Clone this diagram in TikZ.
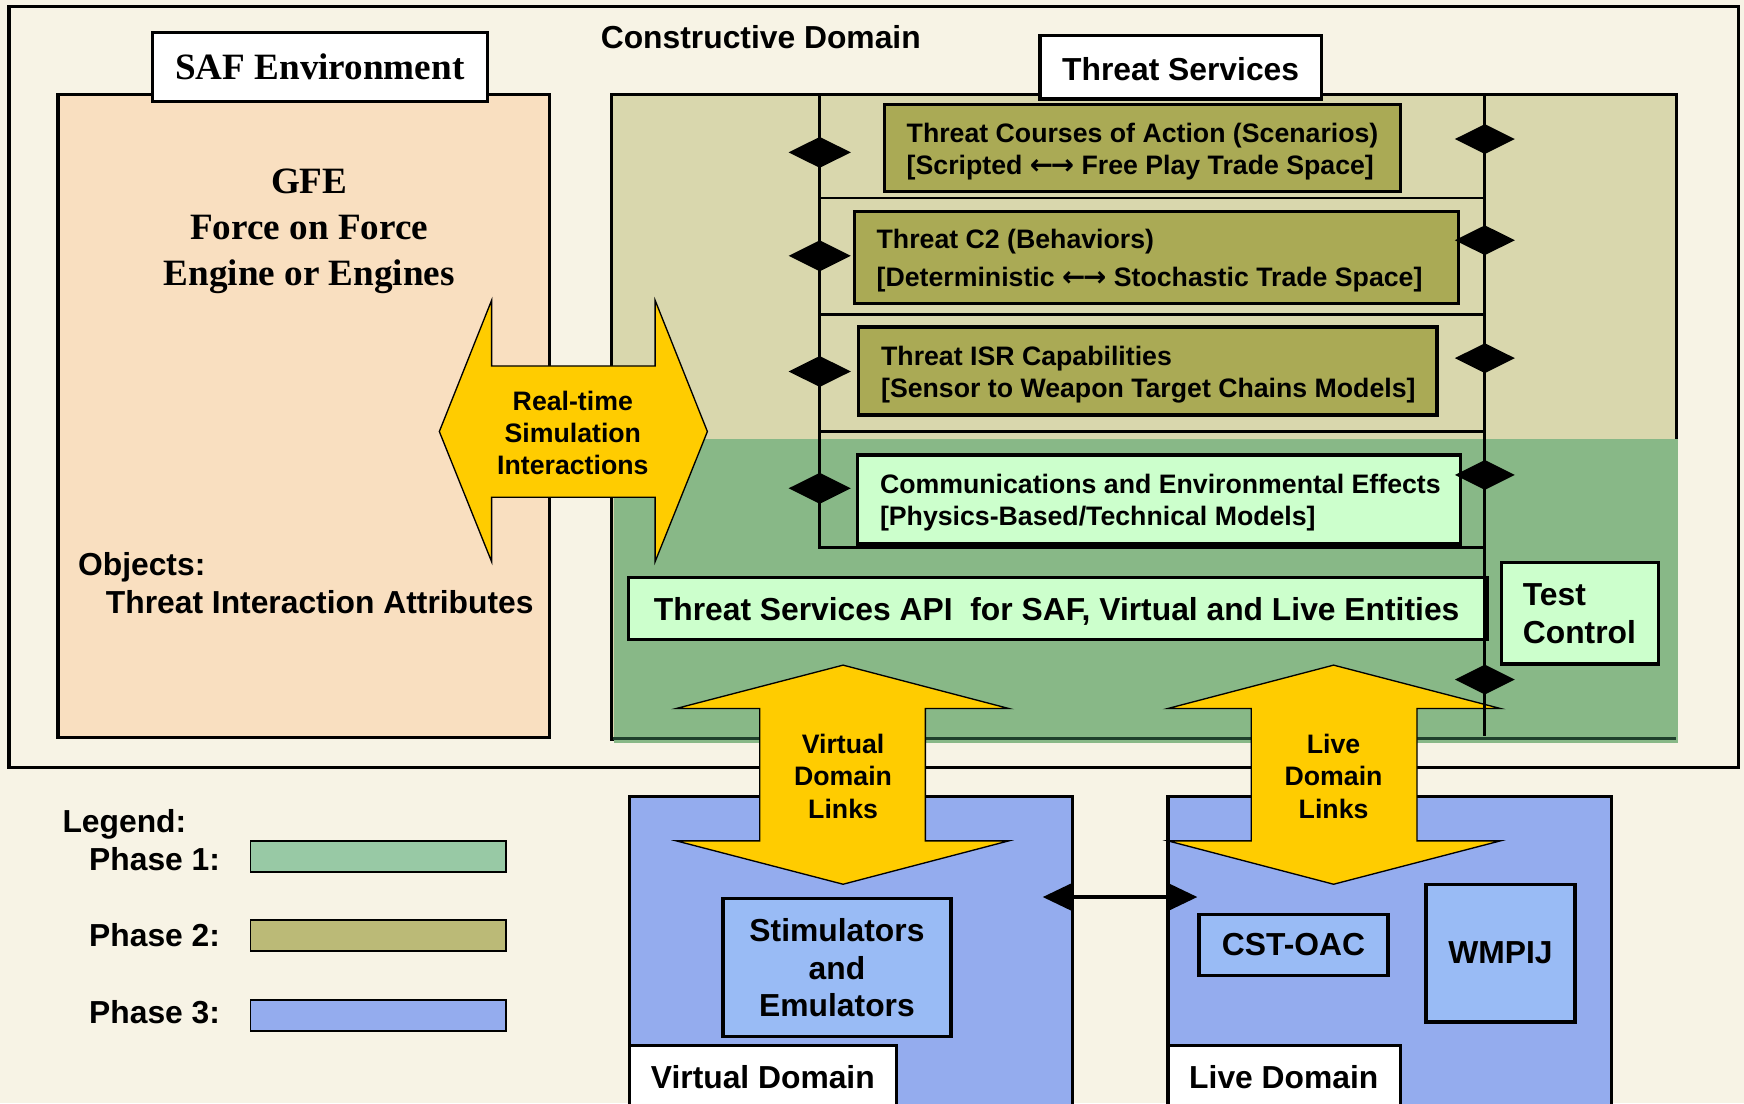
\documentclass[tikz,border=0pt]{standalone}
\usepackage{fontspec}
\setmainfont{Liberation Sans}
\newfontfamily\tmsfont{Liberation Serif}
\newfontfamily\arrfont{DejaVu Sans}
\usetikzlibrary{shapes.geometric,arrows.meta}
\definecolor{cream}{HTML}{F7F3E5}
\definecolor{peach}{HTML}{F9DFC0}
\definecolor{khaki}{HTML}{D9D7AD}
\definecolor{phaseone}{HTML}{88B887}
\definecolor{olive}{HTML}{AAAA55}
\definecolor{mint}{HTML}{CCFFCC}
\definecolor{gold}{HTML}{FFCC00}
\definecolor{periw}{HTML}{94ACEE}
\definecolor{skyb}{HTML}{99BBF5}
\definecolor{leggreen}{HTML}{98C9A5}
\definecolor{legolive}{HTML}{BBBA77}
\definecolor{darkgreen}{HTML}{1F3F2C}
\newcommand{\bigsf}{\fontsize{28.6}{34}\selectfont\bfseries}
\newcommand{\midsf}{\fontsize{24}{29}\selectfont\bfseries}
\newcommand{\bigtm}{\tmsfont\fontsize{33.4}{41}\selectfont\bfseries}
\newcommand{\twoarr}{{\arrfont\bfseries\fontsize{25}{29}\selectfont ←\kern-2pt→}}
\begin{document}
\begin{tikzpicture}[x=1pt,y=-1pt,
  box/.style={draw=black,line width=3pt,rectangle,inner sep=0pt},
  rowbox/.style={box,fill=olive},
  rowtxt/.style={inner sep=0pt,align=left,anchor=west},
  txt/.style={inner sep=0pt},
  captxt/.style={inner sep=0pt,font=\bigsf,text height=20.5pt,text depth=0pt},
  blockarrow/.style={fill=gold,draw=black,line width=1.2pt,line join=miter},
  bus/.style={line width=2.6pt},
  dmd/.style={diamond,fill=black,inner sep=0pt,minimum width=56pt,minimum height=28pt},
  swatch/.style={draw=black,line width=1.3pt,minimum width=230pt,minimum height=28pt,inner sep=0pt}
]
\useasboundingbox (0,0) rectangle (1568,992);
\clip (0,0) rectangle (1568,992);
\fill[cream] (0,0) rectangle (1568,992);

% outer constructive domain frame
\draw[line width=3pt] (8,6) rectangle (1563,690);
\node[captxt,anchor=west] (cdom) at (540,33) {Constructive Domain};

% SAF environment
\node[box,fill=peach,minimum width=442pt,minimum height=578pt] (saf) at (273,374) {};
\node[box,fill=white,minimum width=301pt,minimum height=62pt,font=\bigtm] (saflbl) at (287.5,60) {SAF Environment};
\node[txt,align=center,font=\bigtm] (gfe) at (278,208) {GFE\\Force on Force\\Engine or Engines};
\node[captxt,anchor=west] (obj) at (70,507) {Objects:};
\node[captxt,anchor=west] (tia) at (95,541) {Threat Interaction Attributes};

% Threat services region
\node[box,fill=khaki,minimum width=957pt,minimum height=580pt] (ts) at (1028.5,375) {};
\fill[phaseone] (551.6,395) rectangle (1509,668);
\draw[line width=3pt,darkgreen] (551,664) -- (1507,664);
\draw[line width=3pt] (550,393) -- (550,665);

% row separators
\draw[bus] (737,178) -- (1335,178);
\draw[bus] (737,283) -- (1335,283);
\draw[bus] (737,388) -- (1335,388);
\draw[line width=3pt] (737,492) -- (1335,492);

% row boxes
\node[rowbox,minimum width=464pt,minimum height=78pt] (coa) at (1027,133) {};
\node[rowtxt,font=\fontsize{24}{29}\selectfont\bfseries] (coatxt) at (815,136)
  {Threat Courses of Action (Scenarios)\\{[Scripted \twoarr{} Free Play Trade Space]}};
\node[rowbox,minimum width=543pt,minimum height=83pt] (c2) at (1039.5,231.5) {};
\node[rowtxt,font=\fontsize{24}{34}\selectfont\bfseries] (c2txt) at (788,234.5)
  {Threat C2 (Behaviors)\\{[Deterministic \twoarr{} Stochastic Trade Space]}};
\node[rowbox,minimum width=520pt,minimum height=79pt] (isr) at (1032,333.5) {};
\node[rowtxt,font=\fontsize{24}{29}\selectfont\bfseries] (isrtxt) at (792,337)
  {Threat ISR Capabilities\\{[Sensor to Weapon Target Chains Models]}};
\node[rowbox,fill=mint,minimum width=542pt,minimum height=80pt] (comm) at (1042,449) {};
\node[rowtxt,font=\fontsize{24}{29}\selectfont\bfseries] (commtxt) at (791,452)
  {Communications and Environmental Effects\\{[Physics-Based/Technical Models]}};

% API and test control
\node[box,fill=mint,minimum width=772pt,minimum height=56pt] (api) at (951,547) {};
\node[captxt] (apitxt) at (950,548) {Threat Services API\ \ for SAF, Virtual and Live Entities};
\node[box,fill=mint,minimum width=141pt,minimum height=91pt] (test) at (1420.5,551.5) {};
\node[txt,align=left,anchor=west,font=\bigsf] (testtxt) at (1369,552) {Test\\Control};

% threat services label
\node[box,fill=white,minimum width=253pt,minimum height=57pt] (tslbl) at (1061.5,60.5) {};
\node[captxt] (tstxt) at (1061.5,62) {Threat Services};

% virtual domain
\node[box,fill=periw,minimum width=398pt,minimum height=294pt] (vd) at (765,863) {};
\node[box,fill=white,minimum width=240pt,minimum height=70pt] (vdlbl) at (686,975) {};
\node[captxt,anchor=west] (vdtxt) at (585,968) {Virtual Domain};
\node[box,fill=skyb,minimum width=205pt,minimum height=124pt,align=center,font=\bigsf] (stim) at (752.5,870)
  {Stimulators\\and\\Emulators};

% live domain
\node[box,fill=periw,minimum width=399pt,minimum height=294pt] (ld) at (1249.5,863) {};
\node[box,fill=white,minimum width=209pt,minimum height=70pt] (ldlbl) at (1154.5,975) {};
\node[captxt,anchor=west] (ldtxt) at (1069,968) {Live Domain};
\node[box,fill=skyb,minimum width=170pt,minimum height=55pt,font=\bigsf] (cst) at (1163,849.5) {CST-OAC};
\node[box,fill=skyb,minimum width=134pt,minimum height=124pt,font=\bigsf] (wmp) at (1349,857) {WMPIJ};

% link between domains
\coordinate (vdl-end) at ([xshift=-28pt]vd.east |- stim.north);
\coordinate (ldl-end) at ([xshift=28pt]ld.west |- stim.north);
\draw[line width=3pt,{Triangle[length=28pt,width=26pt]}-{Triangle[length=28pt,width=26pt]}]
  (vdl-end) -- (ldl-end);

% block arrows
\draw[blockarrow] (395,388) -- (442,270) -- (442,329) -- (589,329) -- (589,270) -- (636,388)
  -- (589,505) -- (589,447) -- (442,447) -- (442,505) -- cycle;
\node[txt,align=center,font=\fontsize{24}{28.7}\selectfont\bfseries] (rt) at (515,389.5)
  {Real-time\\Simulation\\Interactions};

\draw[blockarrow] (758,598) -- (907,637) -- (832,637) -- (832,756) -- (907,756) -- (758,795)
  -- (608,756) -- (683,756) -- (683,637) -- (608,637) -- cycle;
\node[txt,align=center,font=\fontsize{24}{29}\selectfont\bfseries] (vdlinks) at (758,698)
  {Virtual\\Domain\\Links};

\draw[blockarrow] (1199,598) -- (1349,637) -- (1274,637) -- (1274,756) -- (1349,756) -- (1199,795)
  -- (1050,756) -- (1125,756) -- (1125,637) -- (1050,637) -- cycle;
\node[txt,align=center,font=\fontsize{24}{29}\selectfont\bfseries] (ldlinks) at (1199,698)
  {Live\\Domain\\Links};

% buses
\draw[bus] (737,85) -- (737,493.5);
\draw[bus] (1335,85) -- (1335,662);
\foreach \n/\yy in {l1/137,l2/230,l3/334,l4/439}
  \node[dmd] (\n) at (737,\yy) {};
\foreach \n/\yy in {r1/125,r2/216,r3/322,r4/427,r5/611}
  \node[dmd,minimum width=54pt,minimum height=27pt] (\n) at (1335,\yy) {};

% legend
\node[captxt,anchor=west] (leg) at (56,738) {Legend:};
\node[captxt,anchor=west] (p1) at (80,772) {Phase 1:};
\node[captxt,anchor=west] (p2) at (80,841) {Phase 2:};
\node[captxt,anchor=west] (p3) at (80,910) {Phase 3:};
\node[swatch,fill=leggreen] (s1) at (340,770) {};
\node[swatch,fill=legolive] (s2) at (340,841) {};
\node[swatch,fill=periw] (s3) at (340,913) {};
\end{tikzpicture}
\end{document}
